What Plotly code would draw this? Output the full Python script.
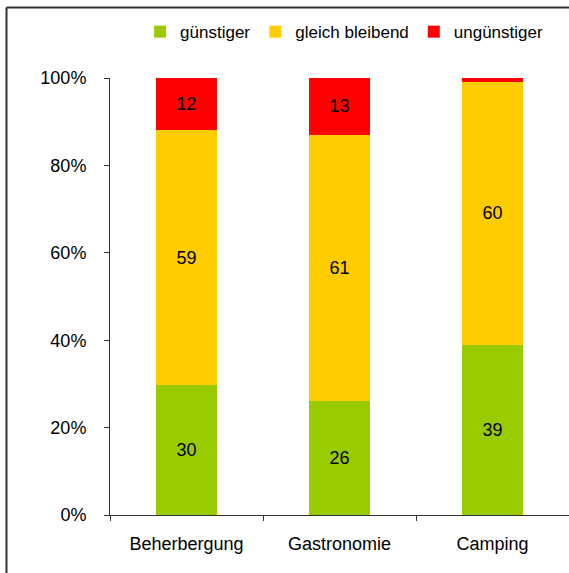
import plotly.graph_objects as go

categories = ["Beherbergung", "Gastronomie", "Camping"]
guenstiger = [30, 26, 39]
gleich = [59, 61, 60]
unguenstiger = [12, 13, 1]

series = [
    ("günstiger", guenstiger, "#99CC00"),
    ("gleich bleibend", gleich, "#FFCC00"),
    ("ungünstiger", unguenstiger, "#FF0000"),
]

FONT = "Liberation Sans"

fig = go.Figure()
for name, vals, col in series:
    fig.add_trace(go.Bar(
        x=categories, y=vals, name=name,
        marker=dict(color=col, line=dict(width=0)),
        text=[str(v) if v >= 5 else "" for v in vals],
        textposition="inside", insidetextanchor="middle", textangle=0,
        textfont=dict(family=FONT, size=18, color="black"),
        hoverinfo="skip",
    ))

# frame: left and top lines only
fx = (6.5 - 110) / 459
fy = (515 - 7.5) / 437
fig.add_shape(type="line", xref="paper", yref="paper", x0=fx, x1=fx, y0=-0.2, y1=fy,
              line=dict(color="#333333", width=2))
fig.add_shape(type="line", xref="paper", yref="paper", x0=fx, x1=1.1, y0=fy, y1=fy,
              line=dict(color="#333333", width=2))

fig.update_layout(
    width=569, height=573,
    margin=dict(l=110, r=0, t=78, b=58),
    barmode="stack", barnorm="percent", bargap=0.595,
    plot_bgcolor="white", paper_bgcolor="white",
    font=dict(family=FONT, size=18, color="black"),
    showlegend=True,
    legend=dict(orientation="h", x=0.51, xanchor="center", y=1.105, yanchor="middle",
                font=dict(size=17), traceorder="normal", itemwidth=30),
    xaxis=dict(showline=True, linecolor="#333333", linewidth=1, ticks="outside",
               tickson="boundaries", ticklen=5, tickcolor="#333333", showgrid=False,
               ticklabelstandoff=12),
    yaxis=dict(range=[0, 100], dtick=20, ticksuffix="%", showline=True, linecolor="#333333",
               linewidth=1, ticks="outside", ticklen=5, tickcolor="#333333", showgrid=False,
               zeroline=False, ticklabelstandoff=14),
)

fig.write_html("out.html", config={"displayModeBar": False},
               post_script="document.body.style.margin='0';")
